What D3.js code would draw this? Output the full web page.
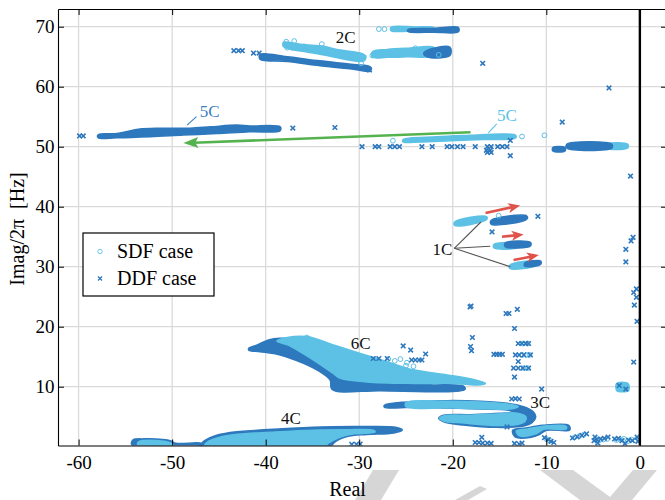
<!DOCTYPE html>
<html>
<head>
<meta charset="utf-8">
<script src="https://cdn.jsdelivr.net/npm/d3@7"></script>
<style>
  body { margin: 0; background: #fff; }
  text { font-family: "Liberation Serif", "Times New Roman", serif; }
</style>
</head>
<body>
<svg id="chart" width="665" height="500"></svg>
<script>
// ---- axis ticks ----
const xTicks = [-60, -50, -40, -30, -20, -10, 0];
const yTicks = [10, 20, 30, 40, 50, 60, 70];

// ---- dense eigenvalue clusters, outlined as [real, imag/2pi] vertices ----
// SDF case
const sdf2cTop   = [[-26.6,69.9],[-24.0,69.95],[-22.0,69.85],[-22.0,69.35],[-24.0,69.3],[-26.6,69.35]];
const sdf2cLeft  = [[-38.1,67.4],[-36.3,67.05],[-34.2,66.8],[-32.0,66.1],[-29.9,65.6],[-29.3,65.1],[-29.5,64.3],[-31.3,64.5],[-33.45,65.2],[-35.6,65.8],[-37.4,66.3],[-38.1,66.7]];
const sdf2cRight = [[-28.6,65.8],[-27.0,66.2],[-24.9,66.4],[-22.0,66.5],[-22.0,65.2],[-24.9,65.0],[-27.0,64.9],[-28.6,64.95]];
const sdf5c      = [[-25.3,51.2],[-21.7,51.65],[-18.1,51.9],[-14.6,52.1],[-13.3,51.9],[-13.3,51.45],[-16.7,51.2],[-20.2,51.0],[-23.5,50.8],[-25.3,50.8]];
const sdf50Right = [[-3.7,50.35],[-1.3,50.4],[-1.3,49.8],[-3.7,49.8]];
const sdf1cTop   = [[-19.8,37.45],[-16.4,38.35],[-16.4,37.85],[-19.8,36.9]];
const sdf1cMid   = [[-15.6,33.7],[-13.0,33.8],[-13.0,33.25],[-15.6,33.15]];
const sdf1cBot   = [[-13.9,30.25],[-11.0,30.85],[-11.0,30.3],[-13.9,29.7]];
const sdf6c      = [[-37.7,18.2],[-35.6,18.35],[-32.75,16.95],[-29.9,15.55],[-27.0,14.15],[-24.2,12.8],[-20.6,11.95],[-17.8,11.2],[-16.5,10.55],[-17.4,10.3],[-19.9,10.55],[-24.2,10.55],[-29.2,10.8],[-32.0,11.4],[-32.75,12.2],[-33.8,13.3],[-35.0,14.55],[-36.3,15.8],[-37.6,16.95],[-38.8,17.6]];
const sdf3cUpper = [[-25.0,7.35],[-20.6,7.55],[-17.0,7.45],[-14.2,7.1],[-13.0,6.7],[-13.6,6.35],[-17.0,6.35],[-20.6,6.5],[-25.0,6.65]];
const sdf3cLower = [[-21.4,4.75],[-20.9,5.15],[-18.1,5.25],[-14.9,5.5],[-13.3,5.6],[-12.2,5.0],[-12.3,4.2],[-13.0,3.75],[-15.3,3.55],[-18.8,3.95],[-21.0,4.3]];
const sdf4cMain  = [[-46.5,0.3],[-46.1,0.9],[-45.0,1.55],[-43.0,2.05],[-39.5,2.4],[-35.0,2.75],[-31.5,2.8],[-28.5,2.75],[-28.3,2.45],[-30.5,2.15],[-32.2,1.5],[-33.3,0.6],[-33.6,0.25]];
const sdf4cLeft  = [[-53.7,0.45],[-53.4,0.95],[-51.5,1.0],[-50.4,0.75],[-49.9,0.35]];
const sdfBandA   = [[-13.2,2.6],[-12.0,2.95],[-10.3,3.4],[-7.9,3.4],[-7.9,2.95],[-10.2,2.95],[-11.2,2.1],[-12.9,1.85]];
const sdfBlob    = [[-2.5,10.5],[-1.9,10.75],[-1.25,10.5],[-1.2,9.4],[-1.8,9.15],[-2.45,9.35]];

// DDF case
const ddf2cTop   = [[-24.8,69.5],[-22.0,69.7],[-19.4,69.85],[-19.4,69.15],[-22.0,69.1],[-24.8,69.2]];
const ddf2cLeft  = [[-40.6,65.4],[-37.7,65.0],[-34.2,64.3],[-30.6,63.7],[-28.8,63.3],[-28.8,62.6],[-30.6,62.9],[-34.2,63.5],[-37.7,64.2],[-40.6,64.6]];
const ddf2cRight = [[-23.1,65.6],[-22.05,66.4],[-20.3,66.55],[-20.3,65.2],[-22.75,65.0]];
const ddf5c      = [[-57.9,52.0],[-55.9,52.2],[-53.6,52.9],[-51.3,53.07],[-48.1,53.07],[-45.9,53.3],[-43.1,53.6],[-41.7,53.45],[-38.45,53.3],[-38.45,52.67],[-41.7,52.5],[-45.2,52.2],[-48.8,51.95],[-52.35,51.67],[-55.9,51.5],[-57.9,51.5]];
const ddf50Right = [[-7.8,50.4],[-3.0,50.4],[-3.0,49.8],[-7.8,49.8]];
const ddf50Left  = [[-9.3,49.85],[-8.0,49.85],[-8.0,49.3],[-9.3,49.3]];
const ddf1cTop   = [[-15.9,37.7],[-12.1,38.45],[-12.1,37.9],[-15.9,37.1]];
const ddf1cMid   = [[-14.4,33.95],[-11.7,34.05],[-11.7,33.45],[-14.4,33.35]];
const ddf1cBot   = [[-12.3,30.6],[-10.6,30.95],[-10.6,30.4],[-12.3,30.1]];
const ddf6c      = [[-41.8,16.4],[-40.9,16.95],[-39.7,17.8],[-38.45,18.05],[-37.2,17.9],[-36.3,16.95],[-34.9,15.55],[-33.45,13.9],[-32.0,12.5],[-30.25,11.4],[-27.0,10.55],[-22.4,10.3],[-18.85,10.1],[-18.7,9.55],[-27.75,9.35],[-32.9,9.55],[-33.1,11.1],[-34.2,12.5],[-35.95,13.9],[-38.45,15.3],[-40.6,15.85],[-41.8,16.1]];
const ddf3c      = [[-27.3,6.9],[-24.9,7.45],[-20.6,7.67],[-17.06,7.57],[-14.2,7.23],[-12.43,6.67],[-11.4,5.83],[-11.14,4.9],[-11.53,4.0],[-12.43,3.45],[-15.3,3.23],[-18.85,3.62],[-20.98,4.17],[-21.5,4.73],[-20.98,5.23],[-18.1,5.33],[-14.9,5.57],[-13.5,5.78],[-14.2,6.12],[-17.06,6.28],[-20.6,6.45],[-24.2,6.57],[-27.3,6.57]];
const ddf4cMain  = [[-46.9,0.25],[-46.65,0.85],[-45.6,1.7],[-43.8,2.35],[-40.2,2.8],[-34.9,3.25],[-29.5,3.35],[-26.0,3.2],[-25.4,2.8],[-26.3,2.3],[-29.2,2.05],[-31.3,1.7],[-32.75,0.6],[-32.9,0.25]];
const ddf4cLeft  = [[-54.3,0.3],[-54.2,1.1],[-53.0,1.3],[-51.0,1.2],[-50.2,1.0],[-49.6,0.55],[-46.9,0.55],[-46.9,0.25]];
const ddfBandA   = [[-13.6,2.7],[-12.2,3.1],[-10.4,3.55],[-7.6,3.55],[-7.5,2.8],[-10.0,2.75],[-10.8,2.0],[-11.6,1.6],[-13.3,1.6]];

// ---- isolated eigenvalues [real, imag/2pi] ----
const sdfPoints = [
  [-27.9,69.6],[-27.3,69.6],
  [-37.8,67.5],[-36.95,67.6],[-37.7,66.5],[-37.2,66.5],[-35.9,66.7],[-34.0,67.1],[-29.8,63.9],[-28.6,65.2],[-24.0,66.4],[-21.5,65.3],
  [-26.4,51.0],[-12.6,51.7],[-10.2,51.9],
  [-15.1,38.5],
  [-35.6,18.2],[-26.9,14.6],[-26.2,14.3],[-25.6,14.6],[-24.9,14.0],[-24.2,13.4],[-25.0,13.5],
  [-12.5,17.2],[-12.0,17.2],[-12.6,15.3],[-12.1,15.3],[-11.8,15.3],[-12.4,13.1],[-12.0,13.1],
  [-10.0,1.3],[-9.6,1.0],
  [-7.0,1.55],[-6.5,1.75],[-6.0,2.0],
  [-4.7,1.3],[-4.3,1.1],[-3.9,1.2],[-3.5,1.3],
  [-2.5,1.1],[-2.1,1.2],[-1.7,1.3],[-1.3,0.9],[-0.9,1.2],[-0.5,1.1]
];
const ddfPoints = [
  [-43.4,66.0],[-42.9,66.0],[-42.5,66.0],[-41.3,65.6],[-40.7,65.6],[-28.9,62.8],[-16.8,63.9],
  [-3.3,59.8],[-8.3,54.1],
  [-59.9,51.8],[-59.5,51.8],[-37.1,53.1],[-32.6,53.2],
  [-29.7,50.0],[-28.3,50.0],[-27.9,50.0],[-26.7,50.0],[-26.2,50.0],[-25.7,50.0],[-23.3,50.0],[-22.2,50.0],
  [-20.6,50.0],[-20.1,50.0],[-19.5,50.0],[-18.9,50.0],[-17.6,50.0],[-16.3,50.0],[-15.9,50.0],
  [-16.4,49.4],[-16.0,49.4],[-16.3,49.05],[-15.9,49.05],[-15.2,50.0],[-14.7,50.0],[-14.2,50.0],
  [-13.85,51.05],[-13.85,48.5],
  [-1.0,45.1],[-0.73,34.9],[-0.94,34.3],[-1.5,32.9],[-1.5,30.8],[-0.37,26.3],[-0.66,25.7],
  [-0.37,24.9],[-0.59,23.6],[-0.3,20.9],[-0.66,14.1],
  [-10.9,38.4],[-15.8,35.8],
  [-18.05,23.45],[-18.15,23.3],[-14.0,22.2],[-14.3,22.2],[-13.1,22.9],[-13.4,19.7],[-17.9,18.2],
  [-18.1,16.7],[-18.0,16.0],[-13.0,17.2],[-12.6,17.2],[-12.2,17.2],[-11.9,17.2],
  [-15.6,15.4],[-15.3,15.4],[-15.0,15.4],[-14.7,15.4],[-13.3,15.3],[-12.9,15.3],[-12.4,15.3],[-11.7,15.3],
  [-13.0,14.2],[-13.5,13.1],[-13.0,13.1],[-12.5,13.1],[-11.9,13.1],[-13.4,11.6],[-10.5,9.6],
  [-13.7,7.95],[-13.3,8.0],[-12.9,7.95],
  [-25.3,16.8],[-24.5,16.1],[-22.9,15.45],[-24.4,14.45],[-24.0,14.45],[-23.6,14.45],[-23.3,14.45],
  [-28.5,14.7],[-27.9,14.7],[-27.0,14.7],
  [-2.2,10.2],[-1.5,9.6],
  [-14.2,3.3],[-16.9,1.57],[-17.6,0.7],[-17.2,0.7],[-16.8,0.6],[-16.3,0.6],[-15.9,0.55],
  [-13.4,0.55],[-12.9,0.45],[-12.6,0.6],[-30.8,0.4],[-30.3,0.4],[-29.9,0.45],
  [-10.2,1.5],[-9.8,1.2],[-9.5,0.9],[-9.2,0.7],
  [-7.2,1.45],[-6.7,1.65],[-6.2,1.9],[-5.7,2.15],
  [-4.9,1.0],[-4.6,1.2],[-4.2,1.3],[-3.8,1.4],[-3.4,1.6],[-4.8,1.6],[-4.5,0.6],
  [-2.7,1.3],[-2.3,1.4],[-1.9,1.0],[-1.6,0.5],[-1.2,1.1],[-0.8,1.0],[-0.3,1.6],[-0.2,0.9]
];

// ---- mode labels and arrows ----
const modeLabels = [
  {text: "2C", at: [-31.45, 68.2], color: "#111"},
  {text: "6C", at: [-29.85, 17.3], color: "#111"},
  {text: "3C", at: [-10.65, 7.5],  color: "#111"},
  {text: "4C", at: [-37.3, 4.7],   color: "#111"},
  {text: "1C", at: [-21.1, 32.95], color: "#111"},
  {text: "5C", at: [-46.0, 55.95], color: "#3a80c4"},
  {text: "5C", at: [-14.2, 55.3],  color: "#5cc3e6"}
];
const labelLeaders = [
  {from: [-48.4, 53.6], to: [-47.4, 55.0], color: "#3a80c4"},
  {from: [-16.2, 52.3], to: [-15.3, 53.8], color: "#5cc3e6"},
  {from: [-19.84, 33.07], to: [-16.99, 37.45], color: "#555"},
  {from: [-19.84, 33.07], to: [-16.0, 33.4],  color: "#555"},
  {from: [-19.84, 33.07], to: [-13.85, 30.0], color: "#555"}
];
const arrows = [
  {from: [-18.1, 52.4], to: [-48.8, 50.6], color: "#55b34f", len: 15, half: 5.5},
  {from: [-16.5, 38.95], to: [-12.8, 40.2], color: "#e0534b", len: 12, half: 5},
  {from: [-14.74, 35.0], to: [-12.43, 35.35], color: "#e0534b", len: 12, half: 5},
  {from: [-13.5, 31.1], to: [-10.8, 31.95], color: "#e0534b", len: 12, half: 5}
];

// faint emblem at the lower margin (pixel outlines)
const emblemShapes = [
  [[373,470],[399,470],[381,500],[355,500]],
  [[480,486],[487,489],[468,500],[455,500]],
  [[540,470],[573,470],[610,497],[633,470],[657,470],[632,500],[580,500]]
];

// ---- colours ----
const SDF = "#5cc1e5";
const DDF = "#2e78bd";

// ---- layout ----
const plotL = 58, plotR = 667, plotT = 9, plotB = 445.5;
const x = d3.scaleLinear().domain([-62.2, 2.9]).range([plotL, plotR]);
const y = d3.scaleLinear().domain([0.2, 72.95]).range([plotB, plotT]);

const svg = d3.select("#chart");
svg.append("rect").attr("width", 665).attr("height", 500).attr("fill", "#fff");

svg.append("g").selectAll("path").data(emblemShapes).join("path")
  .attr("d", d => "M" + d.join("L") + "Z")
  .attr("fill", "#d6d6d6");

svg.append("defs").append("clipPath").attr("id", "plotClip")
  .append("rect").attr("x", plotL).attr("y", plotT)
  .attr("width", plotR - plotL).attr("height", plotB - plotT);

// grid
const grid = svg.append("g").attr("stroke", "#dadada").attr("stroke-width", 1.3);
grid.selectAll(".gx").data(xTicks).join("line")
  .attr("x1", d => x(d)).attr("x2", d => x(d)).attr("y1", plotT).attr("y2", plotB);
grid.selectAll(".gy").data(yTicks).join("line")
  .attr("x1", plotL).attr("x2", plotR).attr("y1", d => y(d)).attr("y2", d => y(d));

const plot = svg.append("g").attr("clip-path", "url(#plotClip)");

const outline = d3.line().x(d => x(d[0])).y(d => y(d[1]))
  .curve(d3.curveCatmullRomClosed.alpha(0.5));

function drawRegions(list, color) {
  plot.append("g").selectAll("path").data(list).join("path")
    .attr("d", outline)
    .attr("fill", color)
    .attr("stroke", color)
    .attr("stroke-width", 1.6)
    .attr("stroke-linejoin", "round");
}

drawRegions([ddf6c, ddf3c, ddf4cMain, ddf4cLeft, ddfBandA], DDF);
drawRegions([sdf2cTop, sdf2cLeft, sdf2cRight, sdf5c, sdf50Right, sdf1cTop, sdf1cMid, sdf1cBot,
             sdf6c, sdf3cUpper, sdf3cLower, sdf4cMain, sdf4cLeft, sdfBandA, sdfBlob], SDF);
drawRegions([ddf2cTop, ddf2cLeft, ddf2cRight, ddf5c, ddf50Right, ddf50Left, ddf1cTop, ddf1cMid, ddf1cBot], DDF);

// isolated markers
plot.append("g").selectAll("circle").data(sdfPoints).join("circle")
  .attr("cx", d => x(d[0])).attr("cy", d => y(d[1])).attr("r", 2.4)
  .attr("fill", "none").attr("stroke", SDF).attr("stroke-width", 1.0);

const cross = "M-2.3,-2.3L2.3,2.3M-2.3,2.3L2.3,-2.3";
plot.append("g").selectAll("path").data(ddfPoints).join("path")
  .attr("transform", d => `translate(${x(d[0])},${y(d[1])})`)
  .attr("d", cross).attr("stroke", DDF).attr("stroke-width", 1.6).attr("fill", "none");

// leader lines
svg.append("g").selectAll("line").data(labelLeaders).join("line")
  .attr("x1", d => x(d.from[0])).attr("y1", d => y(d.from[1]))
  .attr("x2", d => x(d.to[0])).attr("y2", d => y(d.to[1]))
  .attr("stroke", d => d.color).attr("stroke-width", 1.1);

// arrows
const arrowG = svg.append("g");
arrows.forEach(a => {
  const x0 = x(a.from[0]), y0 = y(a.from[1]);
  const x1 = x(a.to[0]), y1 = y(a.to[1]);
  const L = Math.hypot(x1 - x0, y1 - y0);
  const ux = (x1 - x0) / L, uy = (y1 - y0) / L;
  const nx = -uy, ny = ux;
  const bx = x1 - ux * a.len, by = y1 - uy * a.len;
  arrowG.append("line")
    .attr("x1", x0).attr("y1", y0)
    .attr("x2", x1 - ux * a.len * 0.7).attr("y2", y1 - uy * a.len * 0.7)
    .attr("stroke", a.color).attr("stroke-width", 2.6);
  arrowG.append("path")
    .attr("d", `M${x1},${y1}L${bx + nx * a.half},${by + ny * a.half}L${bx + ux * 3},${by + uy * 3}L${bx - nx * a.half},${by - ny * a.half}Z`)
    .attr("fill", a.color);
});

// mode labels
svg.append("g").selectAll("text").data(modeLabels).join("text")
  .attr("x", d => x(d.at[0])).attr("y", d => y(d.at[1]))
  .attr("dy", "0.35em").attr("text-anchor", "middle")
  .attr("font-size", 17).attr("fill", d => d.color)
  .text(d => d.text);

// zero real-part line
svg.append("line")
  .attr("x1", x(0)).attr("x2", x(0)).attr("y1", plotT).attr("y2", plotB)
  .attr("stroke", "#000").attr("stroke-width", 2.4);

// axes
function styleAxis(g, size) {
  g.attr("font-family", "Liberation Serif, Times New Roman, serif").attr("font-size", size);
  g.selectAll("path.domain").attr("stroke", "#000").attr("stroke-width", 1.1);
  g.selectAll(".tick line").attr("stroke", "#000").attr("stroke-width", 1);
  g.selectAll(".tick text").attr("fill", "#000");
}
svg.append("g").attr("transform", `translate(0,${plotB})`)
  .call(d3.axisBottom(x).tickValues(xTicks).tickSizeInner(-6).tickSizeOuter(0)
        .tickPadding(10.5).tickFormat(d => String(d)))
  .call(g => styleAxis(g, 19));
svg.append("g").attr("transform", `translate(${plotL},0)`)
  .call(d3.axisLeft(y).tickValues(yTicks).tickSizeInner(-6).tickSizeOuter(0)
        .tickPadding(3.5).tickFormat(d => String(d)))
  .call(g => styleAxis(g, 19));
svg.append("g").attr("transform", `translate(0,${plotT})`)
  .call(d3.axisTop(x).tickValues(xTicks).tickSizeInner(-6).tickSizeOuter(0).tickFormat(""))
  .call(g => styleAxis(g, 19));
svg.append("g").attr("transform", `translate(${plotR},0)`)
  .call(d3.axisRight(y).tickValues(yTicks).tickSizeInner(-6).tickSizeOuter(0).tickFormat(""))
  .call(g => styleAxis(g, 19));

// axis titles
svg.append("text").attr("x", 347.5).attr("y", 496)
  .attr("text-anchor", "middle").attr("font-size", 20).text("Real");
svg.append("text")
  .attr("transform", "translate(23.5,229) rotate(-90)")
  .attr("text-anchor", "middle").attr("font-size", 20)
  .style("white-space", "pre")
  .text("Imag/2\u03C0  [Hz]");

// legend
const legend = svg.append("g");
legend.append("rect").attr("x", 83).attr("y", 233).attr("width", 131).attr("height", 63)
  .attr("fill", "#fff").attr("stroke", "#000").attr("stroke-width", 1.2);
legend.append("circle").attr("cx", 100).attr("cy", 251.5).attr("r", 2.2)
  .attr("fill", "none").attr("stroke", SDF).attr("stroke-width", 0.9);
legend.append("path").attr("transform", "translate(100,278.5)").attr("d", "M-2,-2L2,2M-2,2L2,-2")
  .attr("stroke", DDF).attr("stroke-width", 1.3);
legend.append("text").attr("x", 117).attr("y", 257.5).attr("font-size", 20).text("SDF case");
legend.append("text").attr("x", 117).attr("y", 284.5).attr("font-size", 20).text("DDF case");
</script>
</body>
</html>
